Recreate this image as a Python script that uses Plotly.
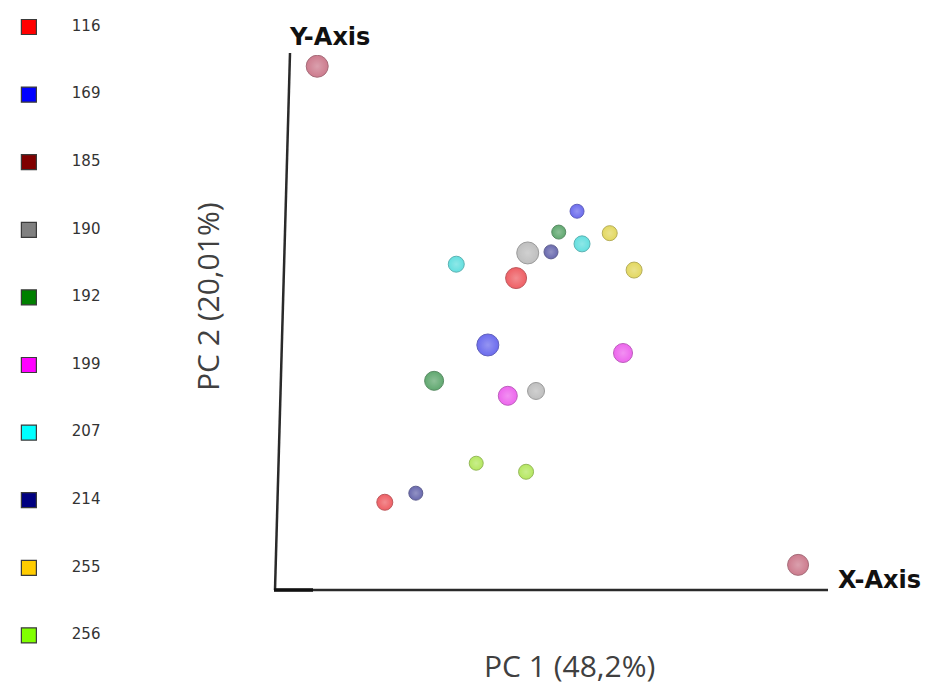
import plotly.graph_objects as go

# ---- data ----
groups = ["116", "169", "185", "190", "192", "199", "207", "214", "255", "256"]
legend_colors = ["#ff0000", "#0000ff", "#800000", "#808080", "#008000",
                 "#ff00ff", "#00ffff", "#000080", "#ffcc00", "#80ff00"]
sphere_colors = ["#e81c24", "#2e2ee6", "#b8445e", "#a4a4a4", "#1e8434",
                 "#e626e6", "#22d2d2", "#2a2a8c", "#d8c81e", "#96de1e"]
pc1 = {
    "116": [4.37, 2.00], "169": [5.47, 3.86], "185": [0.78, 9.46],
    "190": [4.58, 4.73], "192": [5.14, 2.89], "199": [6.30, 4.22],
    "207": [5.56, 3.29], "214": [5.00, 2.56], "255": [6.06, 6.50],
    "256": [3.65, 4.55],
}
pc2 = {
    "116": [5.83, 1.64], "169": [7.08, 4.58], "185": [9.79, 0.47],
    "190": [6.30, 3.72], "192": [6.69, 3.91], "199": [4.43, 3.63],
    "207": [6.47, 6.09], "214": [6.32, 1.81], "255": [6.67, 5.98],
    "256": [2.37, 2.21],
}
pc3 = {  # depth, drawn as sphere size
    "116": [12, 7], "169": [5, 13], "185": [13, 12], "190": [13, 8],
    "192": [5, 10], "199": [10, 10], "207": [7, 7], "214": [5, 5],
    "255": [6, 7], "256": [5, 6],
}
x_title = "PC 1 (48,2%)"
y_title = "PC 2 (20,01%)"

# the page body has an 8px margin, so the figure is sized to fit the window
OFF = 8
W, H = 930 - OFF, 693 - OFF


def lighten(hexc, f=0.28):
    h = hexc.lstrip("#")
    r, g, b = int(h[0:2], 16), int(h[2:4], 16), int(h[4:6], 16)
    r = int(r + (255 - r) * f); g = int(g + (255 - g) * f); b = int(b + (255 - b) * f)
    return f"rgb({r},{g},{b})"


def darken(hexc, f=0.3):
    h = hexc.lstrip("#")
    r, g, b = int(h[0:2], 16), int(h[2:4], 16), int(h[4:6], 16)
    return f"rgb({int(r*(1-f))},{int(g*(1-f))},{int(b*(1-f))})"


def px(p):
    return (p - OFF) / W


def py(p):
    return 1 - (p - OFF) / H


fig = go.Figure()
for i, g in enumerate(groups):
    fig.add_trace(go.Scatter(
        x=pc1[g], y=pc2[g], mode="markers", showlegend=False, name=g,
        marker=dict(size=[9 + d for d in pc3[g]], color=sphere_colors[i],
                    gradient=dict(type="radial", color=lighten(sphere_colors[i])),
                    line=dict(color=darken(sphere_colors[i]), width=1)),
        hoverinfo="text", text=[g, g], xaxis="x", yaxis="y"))

# legend column drawn on its own axes (x2 spans screen px 8..240)
fig.add_trace(go.Scatter(
    x=[0.09] * len(groups), y=list(range(len(groups))), mode="markers",
    showlegend=False, hoverinfo="skip", xaxis="x2", yaxis="y2",
    marker=dict(symbol="square", size=15, color=legend_colors,
                line=dict(color="#3a3a3a", width=1.2))))
fig.add_trace(go.Scatter(
    x=[0.275] * len(groups), y=list(range(len(groups))), mode="text",
    text=groups, textposition="middle right", showlegend=False, hoverinfo="skip",
    xaxis="x2", yaxis="y2",
    textfont=dict(family="DejaVu Sans", size=15, color="#333333")))

fig.update_layout(
    width=W, height=H,
    margin=dict(l=0, r=0, t=0, b=0),
    paper_bgcolor="white", plot_bgcolor="white",
    showlegend=False,
    xaxis=dict(domain=[px(274), px(828)], range=[0, 10], showgrid=False, zeroline=False,
               showticklabels=False, ticks="", showline=False),
    yaxis=dict(domain=[py(590), py(55)], range=[0, 10], showgrid=False, zeroline=False,
               showticklabels=False, ticks="", showline=False),
    xaxis2=dict(domain=[px(OFF), px(240)], range=[0, 1], visible=False, anchor="y2"),
    yaxis2=dict(domain=[0, 1], range=[(H + OFF - 27) / 67.6, (OFF - 27) / 67.6],
                visible=False, anchor="x2"),
    shapes=[
        dict(type="line", xref="paper", yref="paper", x0=px(275), y0=py(590),
             x1=px(290), y1=py(53), line=dict(color="#2a2a2a", width=2.5)),
        dict(type="line", xref="paper", yref="paper", x0=px(274), y0=py(590),
             x1=px(828), y1=py(590), line=dict(color="#2a2a2a", width=2.5)),
        dict(type="line", xref="paper", yref="paper", x0=px(274), y0=py(590),
             x1=px(313), y1=py(590), line=dict(color="#111111", width=3.5)),
    ],
    annotations=[
        dict(text="<b>Y-Axis</b>", xref="paper", yref="paper", x=px(329), y=py(37),
             xanchor="center", yanchor="middle", showarrow=False,
             font=dict(family="DejaVu Sans", size=24, color="#111111")),
        dict(text="<b>X-Axis</b>", xref="paper", yref="paper", x=px(836), y=py(580),
             xanchor="left", yanchor="middle", showarrow=False,
             font=dict(family="DejaVu Sans", size=24, color="#111111")),
        dict(text=x_title, xref="paper", yref="paper", x=px(569), y=py(665),
             xanchor="center", yanchor="middle", showarrow=False,
             font=dict(family="Open Sans", size=30, color="#404040")),
        dict(text=y_title, xref="paper", yref="paper", x=px(207), y=py(297),
             xanchor="center", yanchor="middle", showarrow=False, textangle=-90,
             font=dict(family="Open Sans", size=30, color="#404040")),
    ],
)
fig.write_html("out.html")
